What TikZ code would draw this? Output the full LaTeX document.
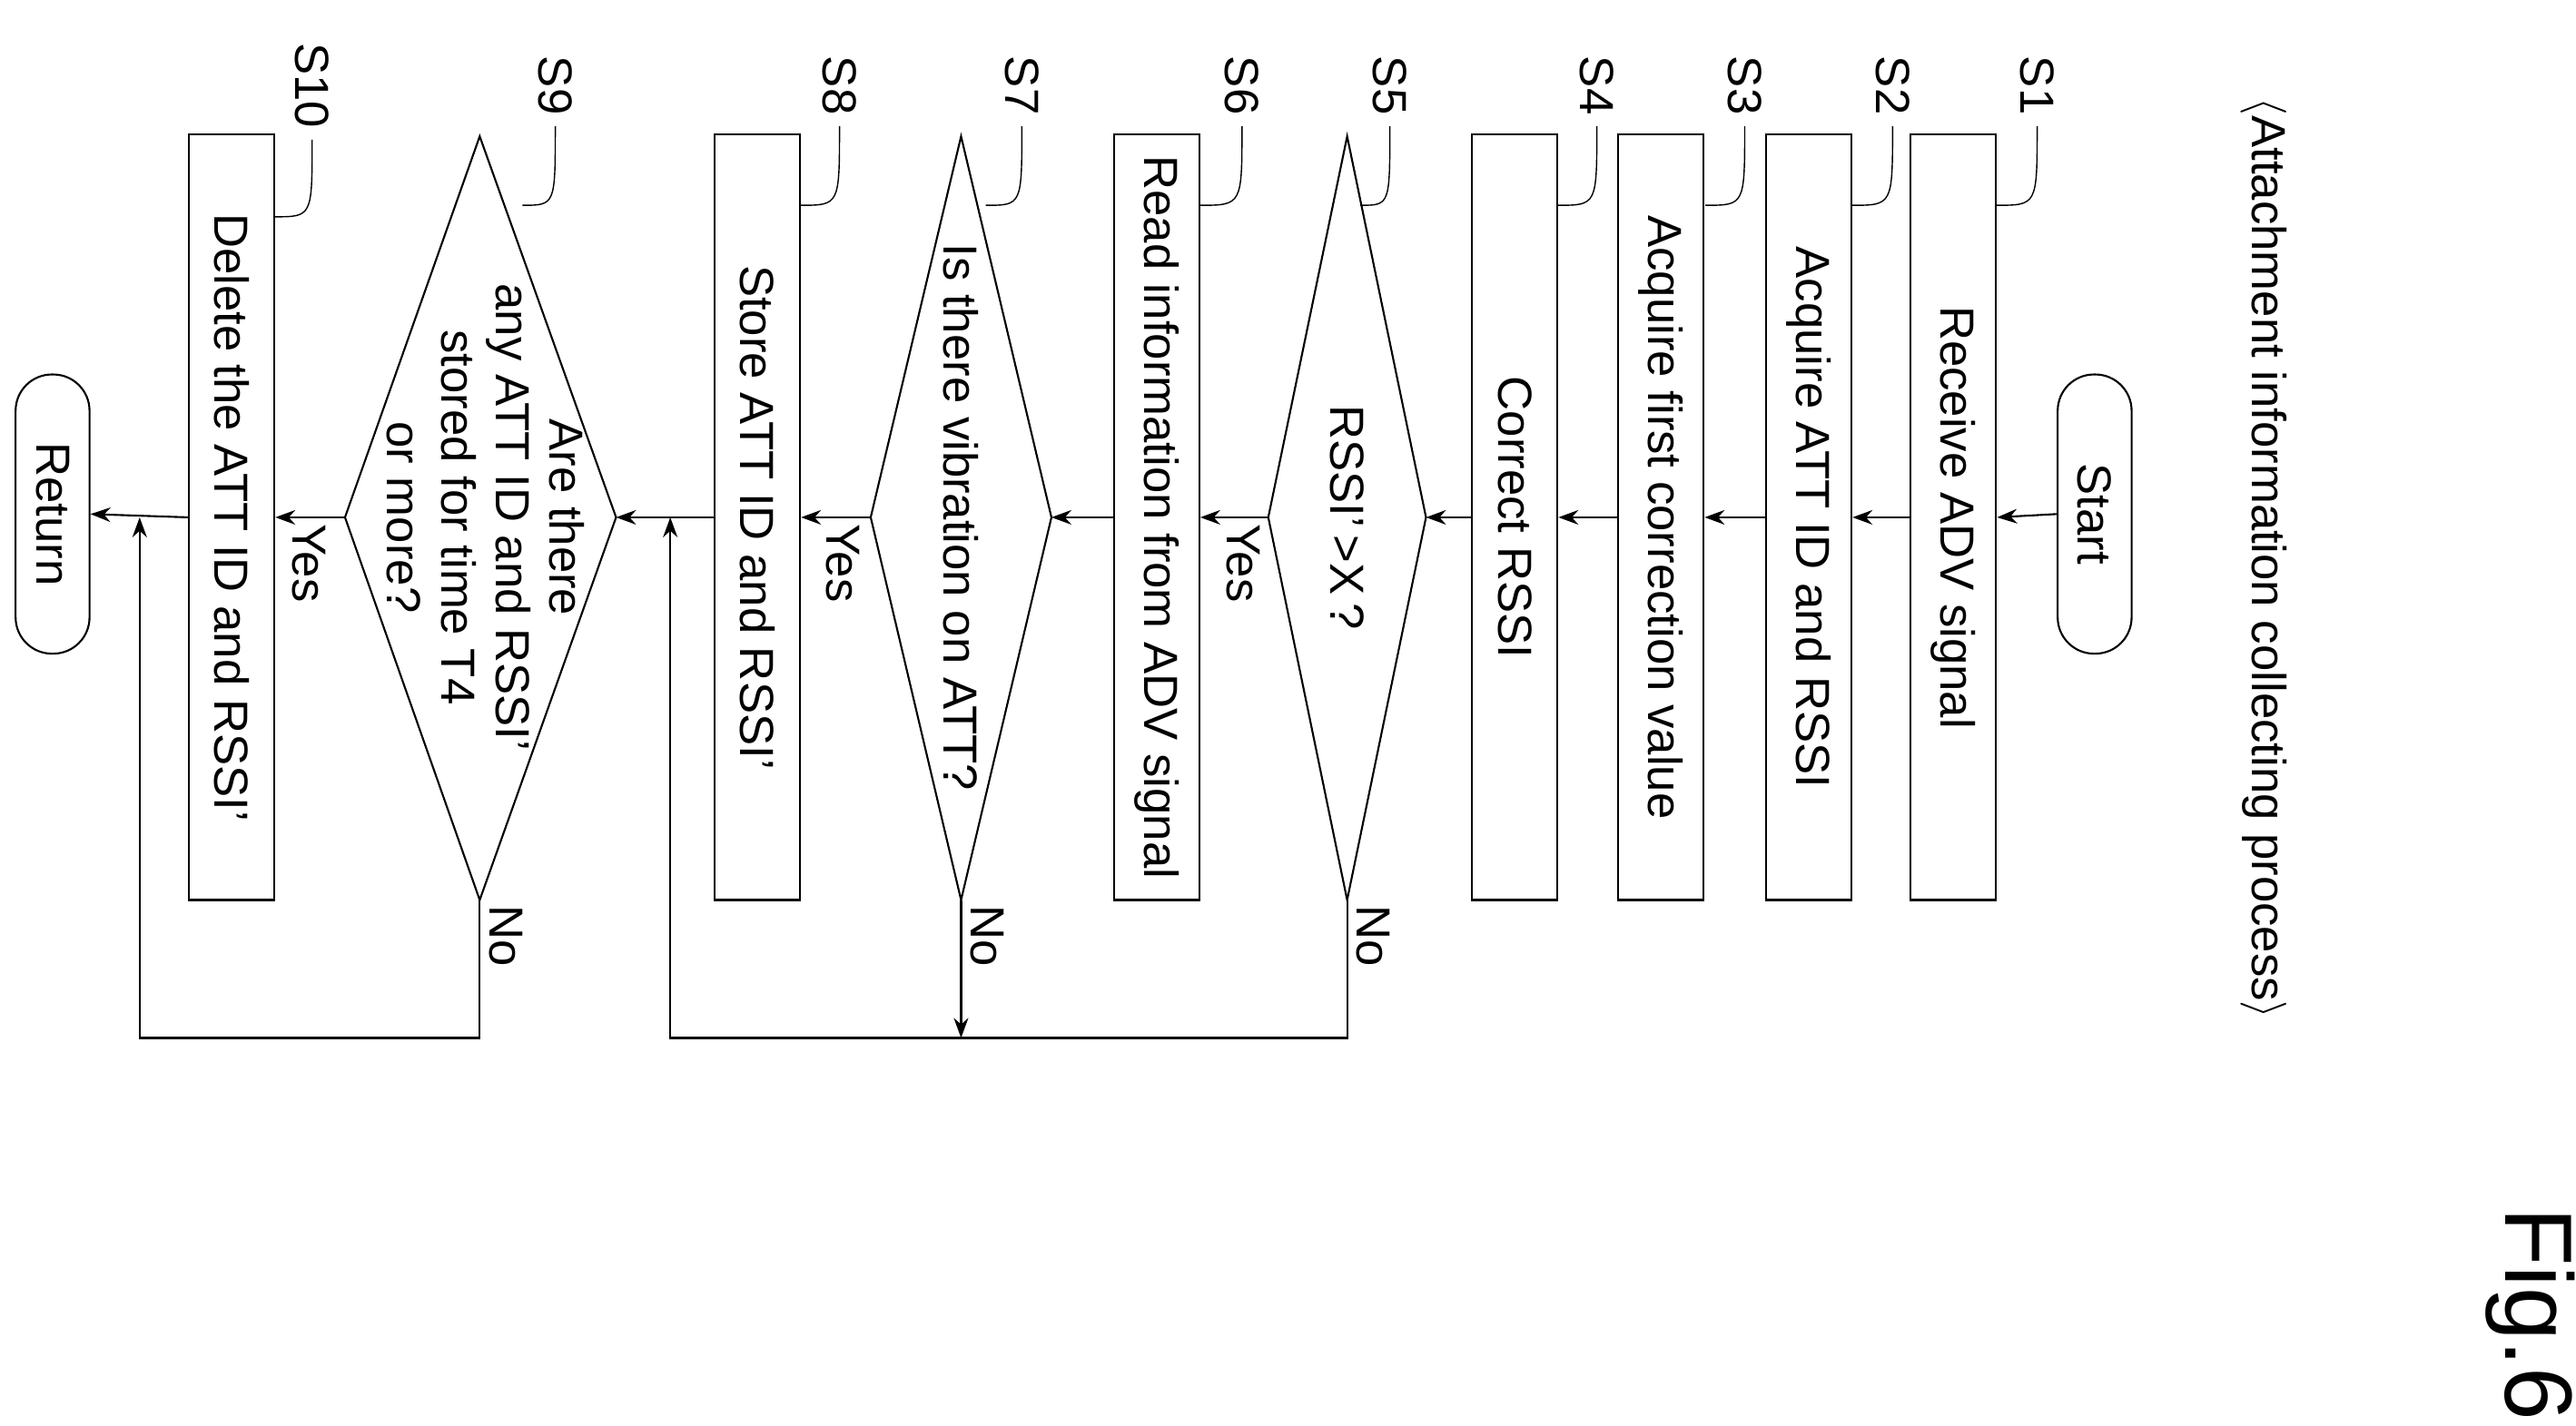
\documentclass[tikz,border=0pt]{standalone}
\usepackage{fontspec}
\setmainfont{Liberation Sans}
\usetikzlibrary{calc,arrows.meta}
\newcommand\px{0.01809cm}
\newcommand\rt[1]{\rotatebox{-90}{#1}}
\tikzset{
  every node/.style={font=\fontsize{15}{17}\selectfont},
  box/.style={draw, minimum width=52*\px, minimum height=466*\px, inner sep=0pt},
  term/.style={draw, rounded corners=0.4cm, minimum width=45*\px, minimum height=170*\px, inner sep=0pt},
  flow/.style={-{Stealth[length=2.2mm,width=1.6mm]}},
  lead/.style={thin}
}
\begin{document}
\begin{tikzpicture}[x=\px, y=-\px, line width=0.6pt]
\useasboundingbox (0,0) rectangle (1568,868);
% title and figure number
\node (title) at (1378,340) {\rt{$\langle$Attachment information collecting process$\rangle$}};
\node[font=\fontsize{30}{34}\selectfont] (fig) at (1540,800) {\rt{Fig.6}};
% terminals and boxes
\node[term] (start) at (1275,313) {\rt{Start}};
\node[box] (s1) at (1189,315) {\rt{Receive ADV signal}};
\node[box] (s2) at (1101,315) {\rt{Acquire ATT ID and RSSI}};
\node[box] (s3) at (1011,315) {\rt{Acquire first correction value}};
\node[box] (s4) at (922,315) {\rt{Correct RSSI}};
\node[box] (s6) at (704,315) {\rt{Read information from ADV signal}};
\node[box] (s8) at (461,315) {\rt{Store ATT ID and RSSI'}};
\node[box] (s10) at (141,315) {\rt{Delete the ATT ID and RSSI'}};
\node[term] (ret) at (32,313) {\rt{Return}};
% decisions
\coordinate (s5r) at (868,315); \coordinate (s5l) at (772,315);
\coordinate (s5t) at (820,83);  \coordinate (s5b) at (820,548);
\draw (s5r) -- (s5t) -- (s5l) -- (s5b) -- cycle;
\node (s5) at (820,315) {\rt{RSSI'\,>X\,?}};
\coordinate (s7r) at (640,315); \coordinate (s7l) at (530,315);
\coordinate (s7t) at (585,83);  \coordinate (s7b) at (585,548);
\draw (s7r) -- (s7t) -- (s7l) -- (s7b) -- cycle;
\node (s7) at (585,315) {\rt{Is there vibration on ATT?}};
\coordinate (s9r) at (375,315); \coordinate (s9l) at (210,315);
\coordinate (s9t) at (292,83);  \coordinate (s9b) at (292,548);
\draw (s9r) -- (s9t) -- (s9l) -- (s9b) -- cycle;
\node (s9) at (292,315) {\rt{\begin{tabular}{@{}c@{}}Are there\\any ATT ID and RSSI'\\stored for time T4\\or more?\end{tabular}}};
% main flow
\draw[flow] (start.west) -- (s1.east);
\draw[flow] (s1.west) -- (s2.east);
\draw[flow] (s2.west) -- (s3.east);
\draw[flow] (s3.west) -- (s4.east);
\draw[flow] (s4.west) -- (s5r);
\draw[flow] (s5l) -- (s6.east);
\draw[flow] (s6.west) -- (s7r);
\draw[flow] (s7l) -- (s8.east);
\draw[flow] (s8.west) -- (s9r);
\draw[flow] (s9l) -- (s10.east);
\draw[flow] (s10.west) -- (ret.east);
% no branches
\coordinate (j1) at (408,315); \coordinate (j2) at (85,315);
\draw[flow] (s5b) -- (820,632) -- (408,632) -- (j1);
\draw[flow] (s7b) -- (585,632);
\draw[flow] (s9b) -- (292,632) -- (85,632) -- (j2);
% yes / no labels
\node (y5) at (757,343) {\rt{Yes}};
\node (y7) at (513,343) {\rt{Yes}};
\node (y9) at (188,343) {\rt{Yes}};
\node (n5) at (836,570) {\rt{No}};
\node (n7) at (601,570) {\rt{No}};
\node (n9) at (308,570) {\rt{No}};
% step labels
\foreach \n/\x/\tx/\ty in {1/1240/1215/125, 2/1152/1127/125, 3/1062/1038/125, 4/972/948/125,
  5/846/828/125, 6/756/730/125, 7/622/600/125, 8/511/487/125, 9/338/318/125, 10/190/167/132}{
  \node (l\n) at (\x,52) {\rt{S\n}};
  \draw[lead] (l\n.south) .. controls (\x,\ty) .. (\tx,\ty);
}
\end{tikzpicture}
\end{document}
